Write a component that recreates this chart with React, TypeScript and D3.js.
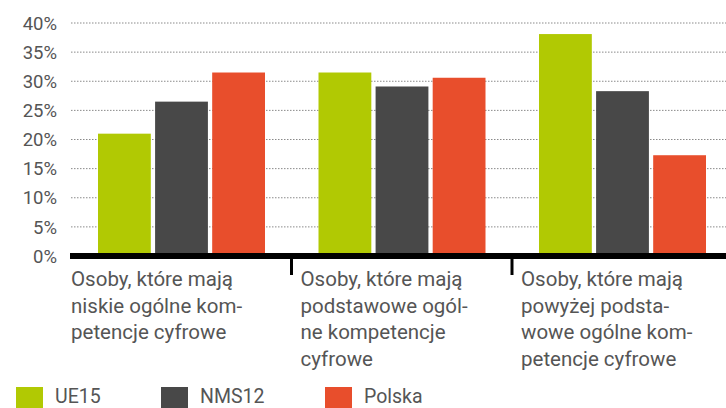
import React from 'react';
import * as d3 from 'd3';

const categories = [
  ['Osoby, które mają', 'niskie ogólne kom-', 'petencje cyfrowe'],
  ['Osoby, które mają', 'podstawowe ogól-', 'ne kompetencje', 'cyfrowe'],
  ['Osoby, które mają', 'powyżej podsta-', 'wowe ogólne kom-', 'petencje cyfrowe'],
];
const seriesNames = ['UE15', 'NMS12', 'Polska'];
const seriesColors = ['#b1c903', '#484848', '#e84e2c'];
const ue15 = [21.0, 31.5, 38.1];
const nms12 = [26.5, 29.1, 28.3];
const polska = [31.5, 30.6, 17.3];
const yTicks = [0, 5, 10, 15, 20, 25, 30, 35, 40];

const W = 726;
const H = 408;
const FONT = 'Roboto, "DejaVu Sans", sans-serif';

export default function App() {
  const values = [ue15, nms12, polska];
  const x0 = d3.scaleBand<number>().domain([0, 1, 2]).range([71, 732.5]);
  const x1 = d3.scaleBand<string>().domain(seriesNames).range([27, 194]).paddingInner(0.075);
  const y = d3.scaleLinear().domain([0, 40]).range([256, 23]);

  return (
    <svg width={W} height={H} style={{ position: 'absolute', left: 0, top: 0, background: '#fff' }}
      fontFamily={FONT}>
      {/* gridlines */}
      {yTicks.filter(t => t > 0).map(t => (
        <line key={t} x1={71} x2={W} y1={y(t)} y2={y(t)} stroke="#8a8a8a" strokeWidth={1}
          strokeDasharray="1.5,1.5" />
      ))}
      {/* y tick labels */}
      {yTicks.map(t => (
        <text key={t} x={57} y={y(t)} dy="0.36em" textAnchor="end" fontSize={18.5} fill="#555">
          {t}%
        </text>
      ))}
      {/* bars */}
      {categories.map((_, ci) => (
        <g key={ci} transform={`translate(${x0(ci)},0)`}>
          {seriesNames.map((s, si) => (
            <rect key={s} x={x1(s)} width={x1.bandwidth()} y={y(values[si][ci])}
              height={y(0) - y(values[si][ci])} fill={seriesColors[si]} />
          ))}
        </g>
      ))}
      {/* axis line */}
      <line x1={70} x2={W} y1={y(0)} y2={y(0)} stroke="#000" strokeWidth={6} />
      {/* separators */}
      {[1, 2].map(ci => (
        <line key={ci} x1={x0(ci)!} x2={x0(ci)!} y1={258} y2={275} stroke="#000" strokeWidth={3} />
      ))}
      {/* category labels */}
      {categories.map((lines, ci) => (
        <text key={ci} x={x0(ci)! + (ci === 0 ? 0 : 9)} y={286} fontSize={20.5} fill="#555">
          {lines.map((l, li) => (
            <tspan key={li} x={x0(ci)! + (ci === 0 ? 0 : 9)} y={286 + li * 26.5}>{l}</tspan>
          ))}
        </text>
      ))}
      {/* legend */}
      {seriesNames.map((s, si) => {
        const lx = [16, 161, 325][si];
        return (
          <g key={s}>
            <rect x={lx} y={387} width={27} height={22} fill={seriesColors[si]} />
            <text x={lx + 39} y={403} fontSize={19.5} fill="#555">{s}</text>
          </g>
        );
      })}
    </svg>
  );
}
